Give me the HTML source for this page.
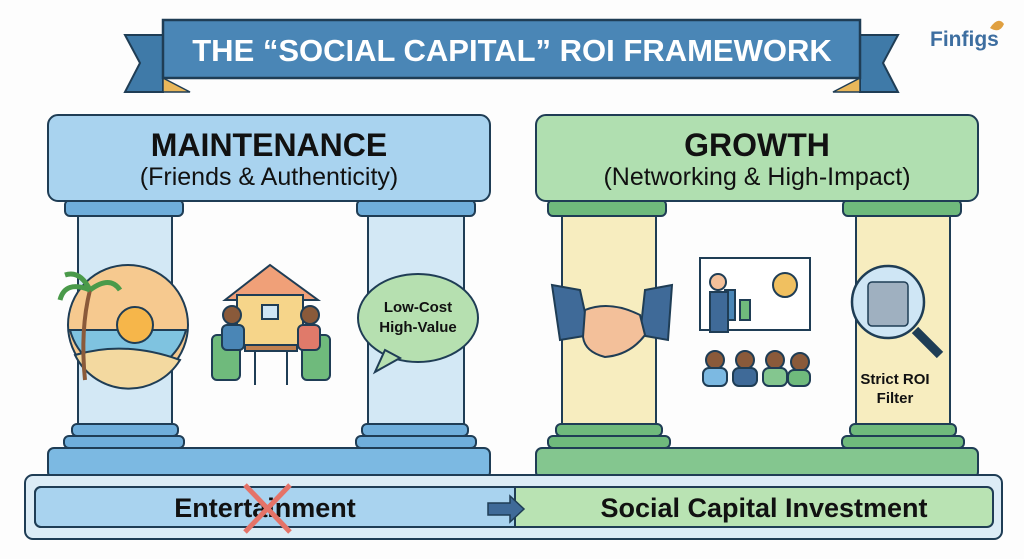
<!DOCTYPE html>
<html><head><style>
body{margin:0;background:#fff;}
svg{display:block;font-family:"Liberation Sans",sans-serif;}
</style></head><body>
<svg width="1024" height="559" viewBox="0 0 1024 559" xmlns="http://www.w3.org/2000/svg">
<rect width="1024" height="559" fill="#fdfdfd"/>
<!-- banner -->
<polygon points="125,35 163,35 163,92 125,92 140,63" fill="#3f7aa8" stroke="#1f3d55" stroke-width="2"/>
<polygon points="898,35 860,35 860,92 898,92 883,63" fill="#3f7aa8" stroke="#1f3d55" stroke-width="2"/>
<polygon points="163,78 190,92 163,92" fill="#e9b75a" stroke="#1f3d55" stroke-width="1.5"/>
<polygon points="860,78 833,92 860,92" fill="#e9b75a" stroke="#1f3d55" stroke-width="1.5"/>
<rect x="163" y="20" width="697" height="58" fill="#4a86b6" stroke="#1f3d55" stroke-width="2.5"/>
<text x="512" y="61" text-anchor="middle" font-size="31" font-weight="bold" fill="#fff">THE “SOCIAL CAPITAL” ROI FRAMEWORK</text>
<!-- logo -->
<text x="930" y="46" font-size="21" font-weight="bold" fill="#3d6ea0">Finfigs</text>
<path d="M990 28 q8 -12 14 -4 q-4 10 -14 4z" fill="#e0a040"/>
<g stroke="#1f3d55" stroke-width="2">
<rect x="48" y="448" width="442" height="30" rx="6" fill="#7cb9e2"/>
<rect x="536" y="448" width="442" height="30" rx="6" fill="#84c68f"/>
<rect x="65" y="200" width="118" height="16" rx="5" fill="#6faedb"/>
<rect x="357" y="200" width="118" height="16" rx="5" fill="#6faedb"/>
<rect x="78" y="216" width="94" height="210" fill="#d3e8f5"/>
<rect x="368" y="216" width="96" height="210" fill="#d3e8f5"/>
<rect x="72" y="424" width="106" height="12" rx="5" fill="#6faedb"/>
<rect x="64" y="436" width="120" height="12" rx="5" fill="#6faedb"/>
<rect x="362" y="424" width="106" height="12" rx="5" fill="#6faedb"/>
<rect x="356" y="436" width="120" height="12" rx="5" fill="#6faedb"/>
<rect x="548" y="200" width="118" height="16" rx="5" fill="#6fba7c"/>
<rect x="843" y="200" width="118" height="16" rx="5" fill="#6fba7c"/>
<rect x="562" y="216" width="94" height="210" fill="#f7edbf"/>
<rect x="856" y="216" width="94" height="210" fill="#f7edbf"/>
<rect x="556" y="424" width="106" height="12" rx="5" fill="#6fba7c"/>
<rect x="548" y="436" width="122" height="12" rx="5" fill="#6fba7c"/>
<rect x="850" y="424" width="106" height="12" rx="5" fill="#6fba7c"/>
<rect x="842" y="436" width="122" height="12" rx="5" fill="#6fba7c"/>
<rect x="48" y="115" width="442" height="86" rx="10" fill="#a9d3ef"/>
<rect x="536" y="115" width="442" height="86" rx="10" fill="#b0dfb0"/>
</g>
<text x="269" y="156" text-anchor="middle" font-size="32" font-weight="bold" fill="#111">MAINTENANCE</text>
<text x="269" y="185" text-anchor="middle" font-size="25" fill="#111">(Friends &amp; Authenticity)</text>
<text x="757" y="156" text-anchor="middle" font-size="32" font-weight="bold" fill="#111">GROWTH</text>
<text x="757" y="185" text-anchor="middle" font-size="25" fill="#111">(Networking &amp; High-Impact)</text>
<g stroke="#1f3d55" stroke-width="2">
<circle cx="128" cy="325" r="60" fill="#f6c98f"/>
<path d="M70 330 h116 a60 60 0 0 1 -116 0z" fill="#7fc3e0"/>
<path d="M75 355 q50 -15 105 5 a60 60 0 0 1 -105 -5z" fill="#f3d9a0"/>
<circle cx="135" cy="325" r="18" fill="#f6b64a"/>
<path d="M85 380 q-5 -50 5 -90" fill="none" stroke-width="4" stroke="#8a5a3a"/>
<path d="M90 290 q-25 -10 -30 10 M90 290 q20 -15 30 0 M90 290 q-10 -20 -25 -15" fill="none" stroke="#4a9a4a" stroke-width="5"/>
</g>
<g stroke="#1f3d55" stroke-width="2">
<polygon points="225,300 270,265 318,300" fill="#f0a078"/>
<rect x="237" y="295" width="66" height="50" fill="#f6d58a"/>
<rect x="262" y="305" width="16" height="14" fill="#cfe6f5"/>
<rect x="212" y="335" width="28" height="45" rx="5" fill="#6fba7c"/>
<rect x="302" y="335" width="28" height="45" rx="5" fill="#6fba7c"/>
<circle cx="232" cy="315" r="9" fill="#8a5a3a"/>
<circle cx="310" cy="315" r="9" fill="#8a5a3a"/>
<rect x="222" y="325" width="22" height="25" rx="5" fill="#4a86b6"/>
<rect x="298" y="325" width="22" height="25" rx="5" fill="#e07a6a"/>
<rect x="245" y="345" width="52" height="6" fill="#c08050"/>
<line x1="255" y1="351" x2="255" y2="385"/><line x1="287" y1="351" x2="287" y2="385"/>
</g>
<ellipse cx="418" cy="318" rx="60" ry="44" fill="#b6e0b0" stroke="#1f3d55" stroke-width="2"/>
<polygon points="385,350 375,372 400,358" fill="#b6e0b0" stroke="#1f3d55" stroke-width="2"/>
<text x="418" y="312" text-anchor="middle" font-size="15" font-weight="bold" fill="#111">Low-Cost</text>
<text x="418" y="332" text-anchor="middle" font-size="15" font-weight="bold" fill="#111">High-Value</text>
<g stroke="#1f3d55" stroke-width="2">
<polygon points="552,285 580,290 590,335 560,340" fill="#3f6a98"/>
<polygon points="645,290 672,285 668,340 640,335" fill="#3f6a98"/>
<path d="M585 310 q25 -10 55 5 l5 20 q-15 20 -40 22 q-20 -5 -22 -20z" fill="#f3c09a"/>
</g>
<g stroke="#1f3d55" stroke-width="2">
<rect x="700" y="258" width="110" height="72" fill="#fff"/>
<rect x="725" y="290" width="10" height="30" fill="#4a86b6"/>
<rect x="740" y="300" width="10" height="20" fill="#6fba7c"/>
<circle cx="785" cy="285" r="12" fill="#f0c060"/>
<circle cx="718" cy="282" r="8" fill="#f3c09a"/>
<rect x="710" y="292" width="18" height="40" fill="#3f6a98"/>
<circle cx="715" cy="360" r="9" fill="#8a5a3a"/><rect x="703" y="368" width="24" height="18" rx="6" fill="#7cb9e2"/>
<circle cx="745" cy="360" r="9" fill="#8a5a3a"/><rect x="733" y="368" width="24" height="18" rx="6" fill="#3f6a98"/>
<circle cx="775" cy="360" r="9" fill="#8a5a3a"/><rect x="763" y="368" width="24" height="18" rx="6" fill="#84c68f"/>
<circle cx="800" cy="362" r="9" fill="#8a5a3a"/><rect x="788" y="370" width="22" height="16" rx="6" fill="#6fba7c"/>
</g>
<g stroke="#1f3d55" stroke-width="2.5">
<line x1="915" y1="330" x2="940" y2="355" stroke-width="9"/>
<circle cx="888" cy="302" r="36" fill="#cfe6f5"/>
<rect x="868" y="282" width="40" height="44" rx="4" fill="#9fb0c0" stroke-width="1.5"/>
</g>
<text x="895" y="384" text-anchor="middle" font-size="15" font-weight="bold" fill="#111">Strict ROI</text>
<text x="895" y="403" text-anchor="middle" font-size="15" font-weight="bold" fill="#111">Filter</text>
<rect x="25" y="475" width="977" height="64" rx="8" fill="#dcecf6" stroke="#1f3d55" stroke-width="2"/>
<rect x="35" y="487" width="958" height="40" rx="6" fill="#b9e3b3" stroke="#1f3d55" stroke-width="2"/>
<path d="M41 487 H515 V527 H41 a6 6 0 0 1 -6 -6 V493 a6 6 0 0 1 6 -6z" fill="#a9d3ef" stroke="#1f3d55" stroke-width="2"/>
<text x="265" y="517" text-anchor="middle" font-size="27" font-weight="bold" fill="#111">Entertainment</text>
<line x1="245" y1="485" x2="290" y2="532" stroke="#e57368" stroke-width="5"/>
<line x1="290" y1="485" x2="245" y2="532" stroke="#e57368" stroke-width="5"/>
<polygon points="488,503 510,503 510,496 524,509 510,522 510,515 488,515" fill="#3f6a98" stroke="#1f3d55" stroke-width="1.5"/>
<text x="764" y="517" text-anchor="middle" font-size="27" font-weight="bold" fill="#111">Social Capital Investment</text>
</svg>
</body></html>
